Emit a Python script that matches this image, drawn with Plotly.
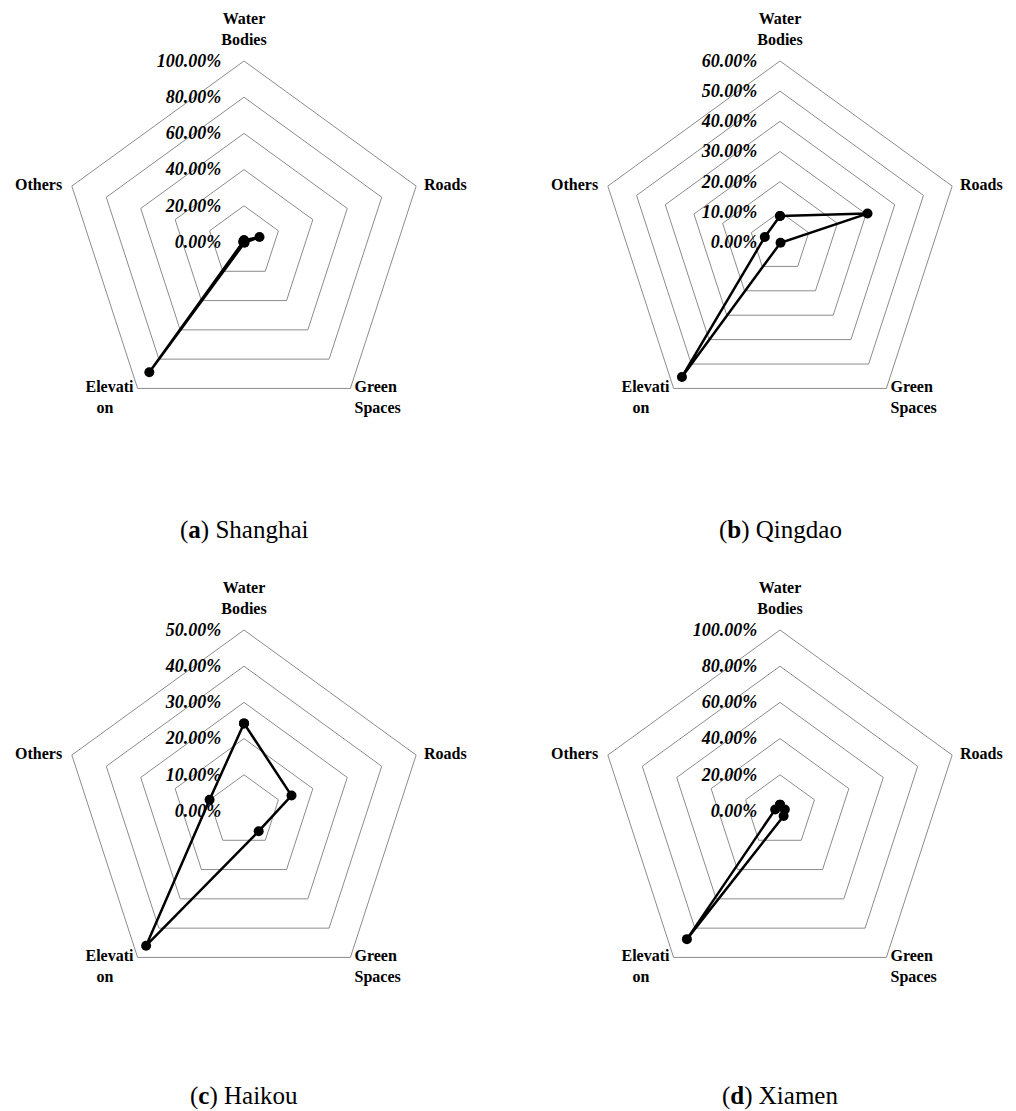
import plotly.graph_objects as go

categories = ["Water Bodies", "Roads", "Green Spaces", "Elevation", "Others"]
NB = "\u00a0"
label_text = ["Water<br>Bodies", "Roads", NB + "<br>Green<br>Spaces",
              NB + "<br>Elevati<br>on" + NB * 5, "Others"]

shanghai = [1.0, 9.0, 0.5, 89.0, 0.5]
qingdao = [8.6, 30.5, 0.3, 55.3, 5.3]
haikou = [24.2, 13.8, 6.9, 46.0, 10.0]
xiamen = [3.5, 2.8, 3.4, 87.5, 2.8]

ranges = [100, 60, 50, 100]
dticks = [20, 10, 10, 20]
titles = ["(<b>a</b>) Shanghai", "(<b>b</b>) Qingdao", "(<b>c</b>) Haikou", "(<b>d</b>) Xiamen"]
series = [shanghai, qingdao, haikou, xiamen]

# layout / style
W, H = 1016, 1111
centers = [(244, 242), (780, 242), (244, 811), (780, 811)]
title_y = [530, 530, 1096, 1096]
R = 181
label_offset_size = [18, 11, 5, 5, 14]   # invisible marker size -> text offset
label_pos = ["top center", "middle right", "middle right", "middle left", "middle left"]

fig = go.Figure()
serif = "Liberation Serif"

for i, (vals, rmax, dt) in enumerate(zip(series, ranges, dticks)):
    pname = "polar" if i == 0 else f"polar{i+1}"
    fig.add_trace(go.Scatterpolar(
        r=vals + [vals[0]],
        theta=categories + [categories[0]],
        mode="lines+markers",
        line=dict(color="black", width=2.5),
        marker=dict(color="black", size=10),
        subplot=pname,
        showlegend=False,
        hoverinfo="skip",
    ))
    # category labels at the outer ring vertices
    fig.add_trace(go.Scatterpolar(
        r=[rmax] * len(categories),
        theta=categories,
        mode="markers+text",
        marker=dict(size=label_offset_size, color="rgba(0,0,0,0)"),
        text=label_text,
        textposition=label_pos,
        textfont=dict(family=serif, size=16, color="black", weight="bold"),
        cliponaxis=False,
        subplot=pname,
        showlegend=False,
        hoverinfo="skip",
    ))
    cx, cy = centers[i]
    dom_x = [(cx - R) / W, (cx + R) / W]
    dom_y = [1 - (cy + R) / H, 1 - (cy - R) / H]
    polar = dict(
        domain=dict(x=dom_x, y=dom_y),
        gridshape="linear",
        bgcolor="white",
        angularaxis=dict(
            direction="clockwise",
            rotation=90,
            showgrid=False,
            linecolor="#8c8c8c",
            linewidth=1,
            ticks="",
            showticklabels=False,
            categoryorder="array",
            categoryarray=categories,
        ),
        radialaxis=dict(
            range=[0, rmax],
            dtick=dt,
            tick0=0,
            angle=90,
            side="counterclockwise",
            tickangle=90,
            showline=False,
            ticks="outside",
            ticklen=16,
            tickcolor="rgba(0,0,0,0)",
            gridcolor="#8c8c8c",
            gridwidth=1,
            ticksuffix="%",
            tickformat=".2f",
            tickfont=dict(family=serif, size=18, color="black", weight="bold", style="italic"),
        ),
    )
    fig.update_layout(**{pname: polar})
    fig.add_annotation(
        text=titles[i], xref="paper", yref="paper",
        x=cx / W, y=1 - title_y[i] / H,
        showarrow=False, xanchor="center", yanchor="middle",
        font=dict(family=serif, size=25, color="black"),
    )

fig.update_layout(
    width=W, height=H, autosize=False,
    margin=dict(l=0, r=0, t=0, b=0),
    paper_bgcolor="white",
)

fig.write_html("out.html", config={"displayModeBar": False},
               post_script="document.body.style.margin='0px';")
